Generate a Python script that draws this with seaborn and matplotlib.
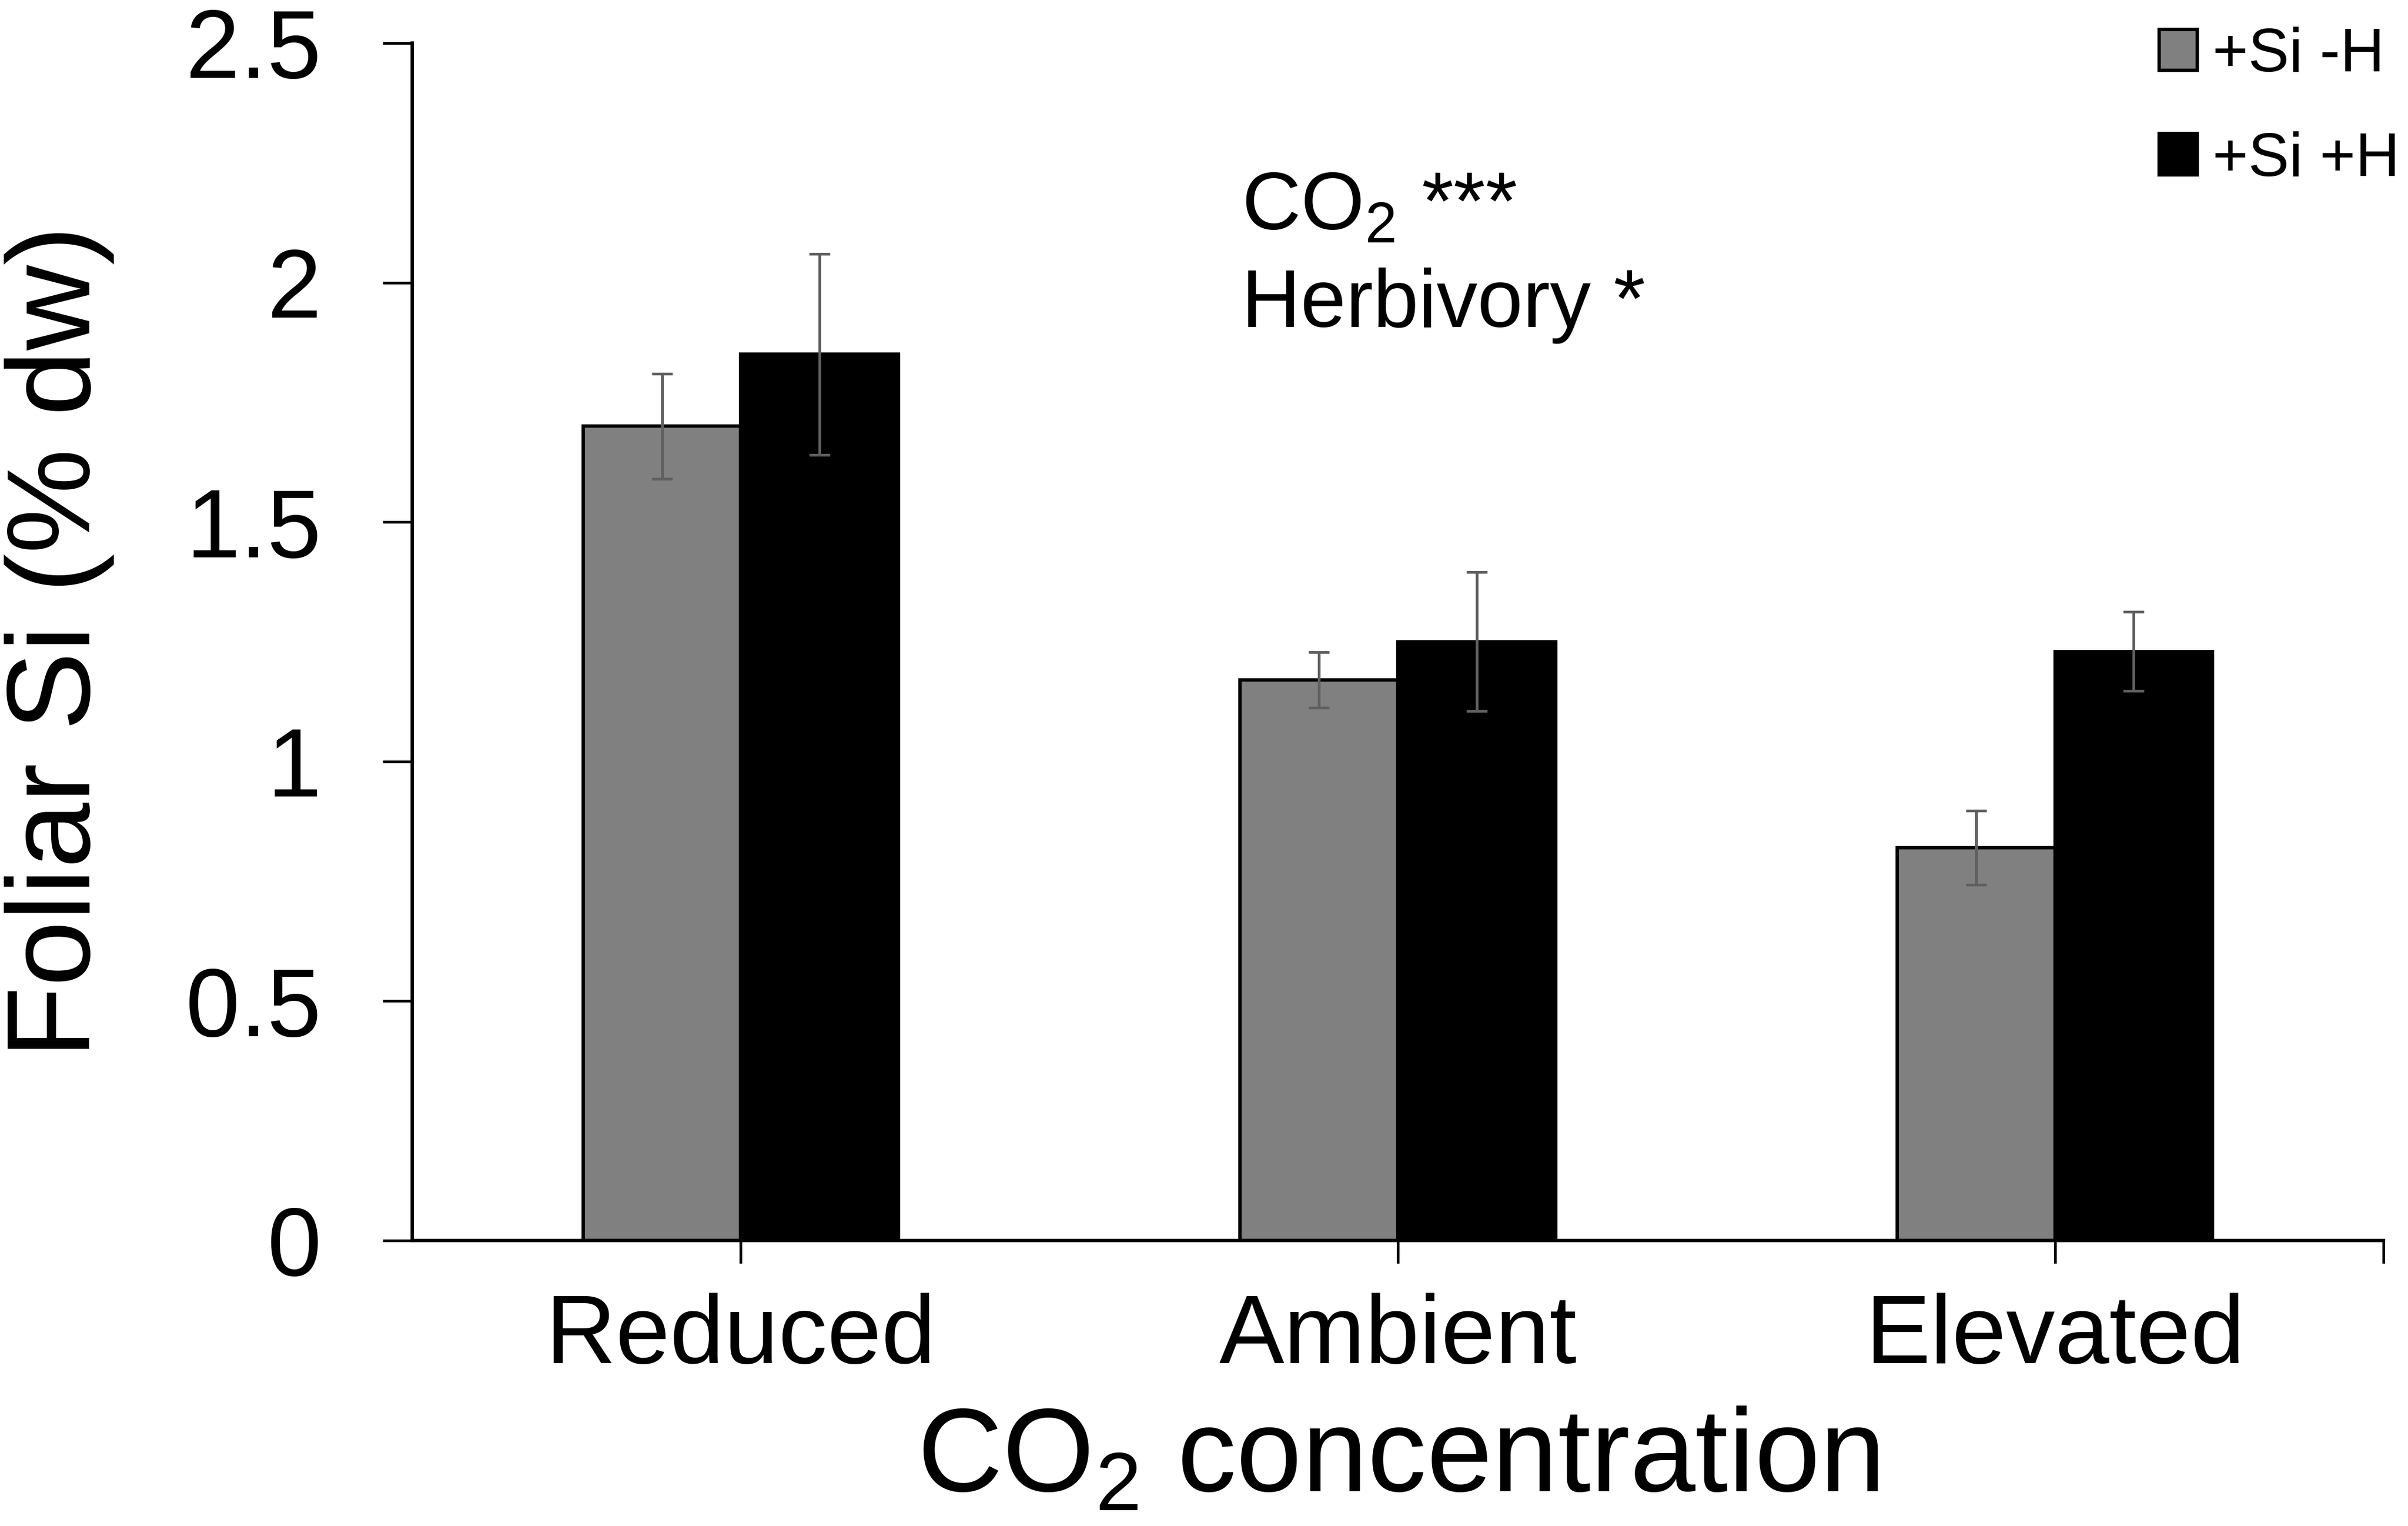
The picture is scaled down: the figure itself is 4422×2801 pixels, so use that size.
import pandas as pd
import matplotlib.pyplot as plt
import seaborn as sns
from matplotlib.patches import Patch

# ----------------------- Data ------------------------
co2_levels = ['Reduced', 'Ambient', 'Elevated']
treatments = ['+Si -H', '+Si +H']
si_minus_h = [1.70, 1.17, 0.82]
si_plus_h = [1.85, 1.25, 1.23]
se_minus_h = [0.11, 0.058, 0.077]
se_plus_h = [0.21, 0.145, 0.082]
y_ticks = [0, 0.5, 1, 1.5, 2, 2.5]
y_tick_labels = ['0', '0.5', '1', '1.5', '2', '2.5']

data = pd.DataFrame({
    'co2': co2_levels * 2,
    'treatment': [treatments[0]] * 3 + [treatments[1]] * 3,
    'si': si_minus_h + si_plus_h,
})

gray = '#808080'
black = '#000000'

sns.set_style('white')
plt.rcParams['font.family'] = ['Liberation Sans', 'DejaVu Sans']
plt.rcParams['mathtext.fontset'] = 'custom'
plt.rcParams['mathtext.rm'] = 'Liberation Sans'
plt.rcParams['text.color'] = 'black'
plt.rcParams['axes.labelcolor'] = 'black'
plt.rcParams['xtick.color'] = 'black'
plt.rcParams['ytick.color'] = 'black'

fig = plt.figure(figsize=(4422 / 300, 2801 / 300), dpi=300)
ax = fig.add_axes([0.1712, 0.1871, 0.9898 - 0.1712, 0.9718 - 0.1871])

sns.barplot(data=data, x='co2', y='si', hue='treatment', order=co2_levels,
            hue_order=treatments, palette=[gray, black], width=0.48,
            errorbar=None, edgecolor='black', linewidth=1.5, saturation=1,
            legend=False, ax=ax)

# error bars (standard errors) on top of each bar
for cont, err in zip(ax.containers, [se_minus_h, se_plus_h]):
    xs = [b.get_x() + b.get_width() / 2 for b in cont]
    ys = [b.get_height() for b in cont]
    ax.errorbar(xs, ys, yerr=err, fmt='none', ecolor='#5f5f5f',
                elinewidth=1.2, capsize=4.5, capthick=1.2, zorder=5)

ax.set_xlim(-0.5, 2.5)
ax.set_ylim(0, 2.5)
ax.set_yticks(y_ticks)
ax.set_yticklabels(y_tick_labels)
ax.set_xticks([2.5], minor=True)

sns.despine(ax=ax)
for side in ['left', 'bottom']:
    ax.spines[side].set_linewidth(1.5)
    ax.spines[side].set_color('black')

ax.tick_params(axis='y', length=13, width=1.2, pad=27, labelsize=43,
               left=True, color='black', labelcolor='black')
ax.tick_params(axis='x', which='both', length=10, width=1.2, pad=13,
               labelsize=43, bottom=True, color='black', labelcolor='black')

ax.set_xlabel('CO$_\\mathregular{2}$ concentration', fontsize=52, labelpad=10,
              color='black')
ax.set_ylabel('Foliar Si (% dw)', fontsize=52, color='black')
ax.yaxis.set_label_coords(-0.151, 0.5)

# statistics annotation
ax.text(0.4206, 0.8444, 'CO$_\\mathregular{2}$ ***', transform=ax.transAxes,
        fontsize=36, ha='left', va='baseline', color='black')
ax.text(0.4206, 0.763, 'Herbivory *', transform=ax.transAxes,
        fontsize=36, ha='left', va='baseline', color='black')

handles = [Patch(facecolor=gray, edgecolor='black', linewidth=1.5),
           Patch(facecolor=black, edgecolor='black', linewidth=1.5)]
ax.legend(handles, treatments, loc='upper left', bbox_to_anchor=(0.8966, 0.9825),
          bbox_transform=fig.transFigure, frameon=False, fontsize=27,
          handlelength=0.62, handleheight=0.65, handletextpad=0.25,
          labelspacing=0.76, borderpad=0, borderaxespad=0)

plt.savefig('out.png', dpi=300)
